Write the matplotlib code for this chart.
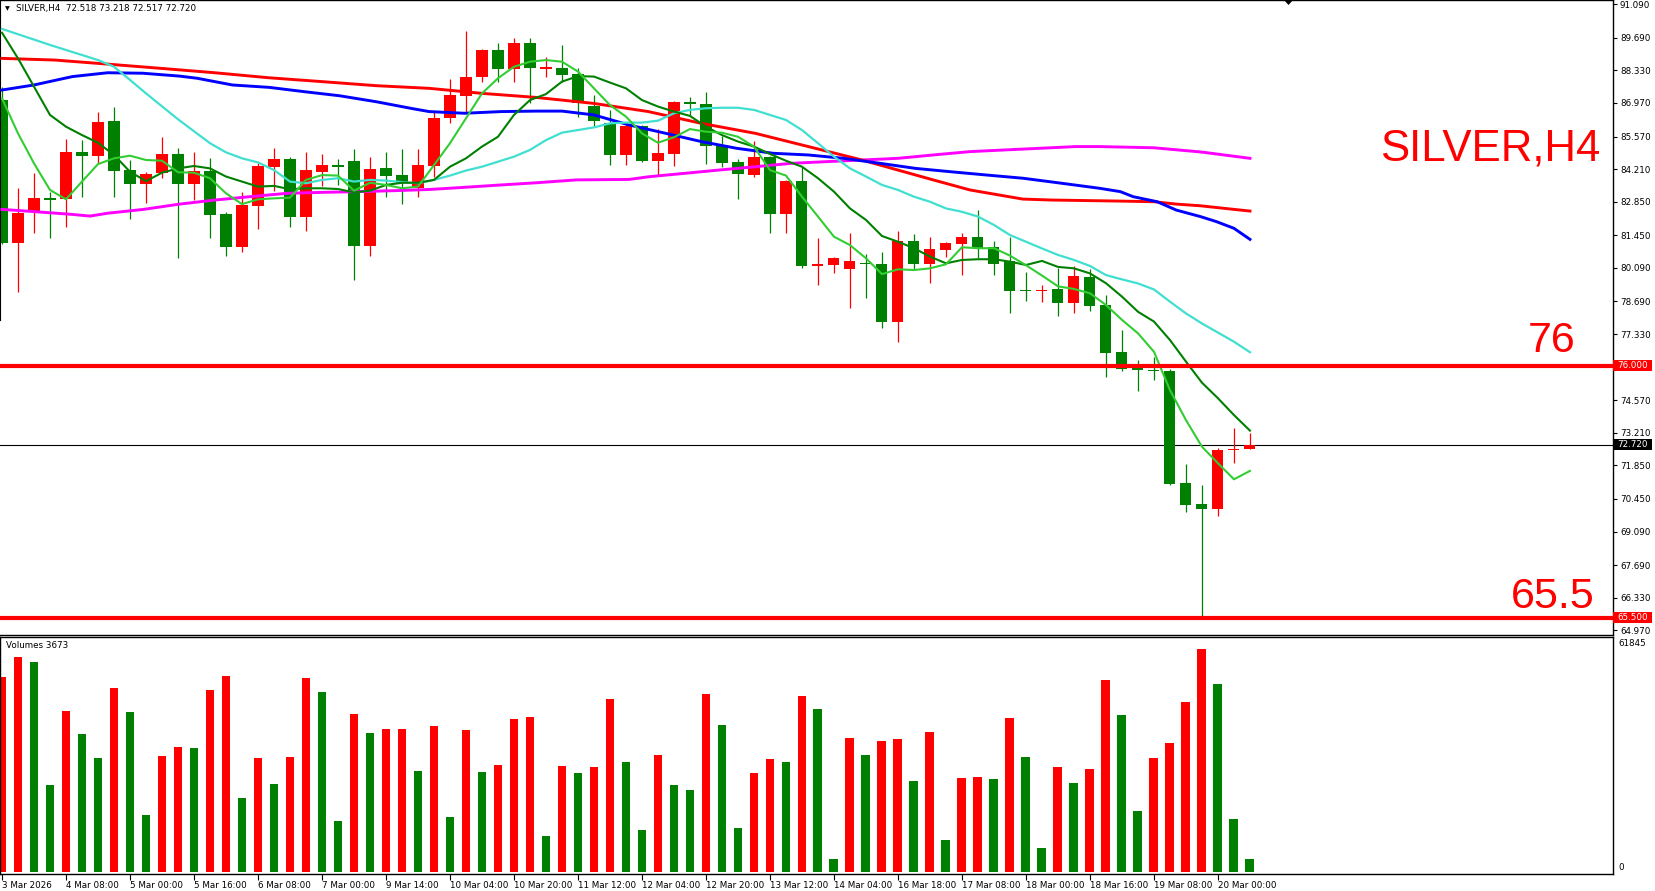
import matplotlib
matplotlib.use("Agg")
import matplotlib.pyplot as plt
from matplotlib.patches import Polygon, Rectangle

# values
time_labels = ["3 Mar 2026", "4 Mar 08:00", "5 Mar 00:00", "5 Mar 16:00", "6 Mar 08:00",
               "7 Mar 00:00", "9 Mar 14:00", "10 Mar 04:00", "10 Mar 20:00", "11 Mar 12:00",
               "12 Mar 04:00", "12 Mar 20:00", "13 Mar 12:00", "14 Mar 04:00", "16 Mar 18:00",
               "17 Mar 08:00", "18 Mar 00:00", "18 Mar 16:00", "19 Mar 08:00", "20 Mar 00:00"]

opens = [87.09, 81.14, 82.48, 83.00, 82.95, 84.91, 84.77, 86.22, 84.17, 83.57,
         84.03, 84.84, 83.60, 84.13, 82.35, 80.97, 82.68, 84.31, 84.63, 82.23,
         84.09, 84.37, 84.55, 81.00, 84.26, 83.96, 83.44, 84.35, 86.33, 87.27,
         88.04, 89.18, 88.37, 89.48, 88.40, 88.41, 88.18, 86.84, 86.12, 84.80,
         86.01, 84.56, 84.84, 86.98, 86.93, 85.22, 84.49, 83.96, 84.70, 82.35,
         83.71, 80.18, 80.21, 80.03, 80.31, 80.24, 77.83, 81.21, 80.27, 80.84,
         81.09, 81.36, 80.95, 80.38, 79.17, 79.12, 79.21, 78.64, 79.72, 78.54,
         76.57, 75.88, 75.83, 75.79, 71.12, 70.25, 70.05, 72.49, 72.518]
highs = [87.65, 83.41, 84.03, 83.27, 85.45, 85.42, 86.58, 86.82, 84.59, 84.10,
         85.56, 85.10, 84.91, 84.66, 82.43, 83.24, 84.45, 85.08, 84.73, 84.91,
         84.84, 84.62, 85.05, 84.70, 84.91, 85.05, 85.05, 86.65, 87.97, 89.97,
         89.21, 89.48, 89.67, 89.67, 88.90, 89.39, 88.41, 87.30, 86.68, 86.09,
         86.05, 85.87, 87.07, 87.20, 87.41, 85.59, 84.63, 85.40, 84.76, 83.76,
         84.31, 81.32, 80.56, 81.53, 80.65, 80.74, 81.64, 81.49, 81.36, 81.18,
         81.53, 82.50, 81.21, 81.39, 79.90, 79.38, 80.07, 80.17, 80.03, 78.96,
         77.50, 76.25, 76.39, 75.86, 71.91, 71.03, 72.56, 73.40, 73.218]
lows = [81.10, 79.10, 81.56, 81.35, 81.81, 83.06, 84.45, 83.06, 82.13, 82.81,
        83.85, 80.49, 82.92, 81.32, 80.60, 80.74, 81.71, 83.31, 81.81, 81.64,
        83.52, 83.55, 79.58, 80.58, 83.06, 82.75, 83.06, 83.89, 86.12, 86.61,
        87.86, 87.86, 87.86, 86.95, 88.07, 87.86, 86.37, 86.01, 84.38, 84.38,
        84.49, 83.96, 84.35, 86.47, 84.42, 84.31, 82.98, 83.89, 81.56, 81.56,
        80.10, 79.38, 79.89, 78.43, 78.82, 77.57, 77.01, 80.03, 79.47, 80.56,
        79.79, 80.49, 79.79, 78.19, 78.71, 78.68, 78.10, 78.22, 78.30, 75.55,
        75.80, 74.97, 75.41, 71.03, 69.92, 65.58, 69.75, 71.96, 72.517]
closes = [81.14, 82.36, 83.00, 82.94, 84.91, 84.77, 86.19, 84.14, 83.57, 84.01,
          84.84, 83.60, 84.13, 82.30, 80.97, 82.71, 84.35, 84.63, 82.23, 84.17,
          84.38, 84.28, 81.00, 84.21, 83.92, 83.62, 84.38, 86.33, 87.30, 88.04,
          89.18, 88.37, 89.48, 88.41, 88.43, 88.14, 86.98, 86.23, 84.80, 86.01,
          84.55, 84.87, 87.01, 86.93, 85.19, 84.48, 83.99, 84.70, 82.35, 83.71,
          80.17, 80.24, 80.52, 80.38, 80.25, 77.83, 81.21, 80.27, 80.88, 81.12,
          81.36, 80.90, 80.25, 79.14, 79.11, 79.18, 78.64, 79.75, 78.51, 76.55,
          75.86, 75.84, 75.77, 71.07, 70.21, 70.05, 72.49, 72.55, 72.720]

volumes = [54079, 59626, 58240, 24128, 44650, 38271, 31615, 51028, 44373, 15807,
           32170, 34666, 34389, 50474, 54356, 20522, 31615, 24405, 31893, 53802,
           49919, 14144, 43818, 38548, 39657, 39750, 28010, 40490, 15253, 39380,
           27733, 29674, 42431, 42986, 9984, 29397, 27455, 29120, 47977, 30506,
           11648, 32447, 24128, 22741, 49364, 40767, 12202, 27455, 31338, 30506,
           48810, 45203, 3605, 37161, 32447, 36330, 36884, 25236, 38826, 8874,
           26069, 26346, 25791, 42707, 31893, 6656, 29120, 24682, 28565, 53247,
           43540, 16917, 31615, 35774, 47145, 61845, 52137, 14698, 3673]

# moving averages (one value per bar for the fast ones)
ma_fast = [87.16, 85.70, 84.45, 83.34, 82.95, 83.69, 84.42, 84.66, 84.77, 84.59,
           84.56, 84.08, 84.06, 83.83, 83.20, 82.75, 82.95, 82.99, 83.02, 83.76,
           83.96, 83.94, 83.31, 83.64, 83.55, 83.41, 83.48, 84.38, 85.29, 86.33,
           87.37, 88.00, 88.48, 88.69, 88.76, 88.69, 88.28, 87.58, 86.88, 86.40,
           85.70, 85.31, 85.54, 85.88, 85.77, 85.73, 85.56, 85.15, 84.17, 83.94,
           83.06, 82.23, 81.39, 81.04, 80.49, 79.83, 80.03, 80.00, 80.07, 80.24,
           80.95, 80.91, 80.91, 80.60, 80.20, 79.77, 79.32, 79.21, 79.03, 78.54,
           77.92, 77.36, 76.59, 74.99, 73.74, 72.63, 71.94, 71.27, 71.62]
ma_mid = [89.90, 88.83, 87.65, 86.47, 85.98, 85.63, 85.31, 84.80, 84.10, 83.71,
          84.06, 84.24, 84.34, 84.24, 83.90, 83.69, 83.48, 83.51, 83.37, 83.41,
          83.41, 83.38, 83.24, 83.31, 83.55, 83.64, 83.64, 83.76, 84.31, 84.66,
          85.15, 85.56, 86.47, 87.09, 87.34, 87.86, 88.09, 88.07, 87.82, 87.58,
          87.09, 86.82, 86.61, 86.43, 85.98, 85.63, 85.36, 85.15, 84.84, 84.56,
          84.31, 83.83, 83.27, 82.57, 82.09, 81.42, 81.18, 80.91, 80.56, 80.28,
          80.42, 80.45, 80.45, 80.35, 80.21, 80.38, 80.13, 80.07, 79.86, 79.45,
          78.89, 78.26, 77.85, 77.08, 76.18, 75.30, 74.65, 73.95, 73.30]

turq_x = [0, 3, 4, 6, 7, 8, 9, 11, 13, 14, 15, 16, 17, 18, 19, 20, 21, 22, 23,
          24, 25, 26, 27, 28, 29, 30, 31, 32, 33, 34, 35, 36, 37, 38, 39, 40, 41, 42, 43,
          44, 45, 46, 47, 48, 49, 50, 51, 52, 53, 54, 55, 56, 57, 58, 59, 60, 61, 62, 63,
          64, 65, 66, 67, 68, 69, 70, 71, 72, 73, 74, 75, 76, 77, 78]
turq_y = [90.06, 89.39, 89.18, 88.76, 88.48, 87.93, 87.37, 86.29, 85.29,
          84.91, 84.66, 84.49, 84.17, 83.69, 83.62, 83.76, 83.83, 83.69, 83.76,
          83.73, 83.67, 83.62, 83.76, 83.94, 84.15, 84.31, 84.52, 84.73, 85.01,
          85.42, 85.73, 85.84, 85.95, 86.12, 86.15, 86.15, 86.23, 86.54, 86.68,
          86.75, 86.77, 86.77, 86.68, 86.47, 86.26, 85.84, 85.29, 84.73, 84.24,
          83.90, 83.55, 83.34, 83.06, 82.85, 82.57, 82.43, 82.23, 81.88, 81.46,
          81.18, 80.90, 80.63, 80.42, 80.17, 79.79, 79.61, 79.44, 79.19, 78.68,
          78.19, 77.77, 77.39, 77.01, 76.57]

blue_x = [0, 2, 4.4, 6.6, 8.8, 11.1, 12.2, 14.4, 16.7, 18.9, 21.1, 23.4, 25.6, 26.7,
          28.9, 31.2, 33.4, 35.0, 37.0, 39.2, 41.5, 43.7, 45.9, 48.2, 50.4, 52.6, 54.9,
          57.1, 59.3, 61.6, 63.8, 66.0, 68.6, 69.9, 70.7, 72.2, 73.4, 74.9, 75.9, 77.0, 78.0]
blue_y = [87.51, 87.72, 88.07, 88.23, 88.21, 88.09, 88.00, 87.72, 87.62, 87.44,
          87.27, 87.02, 86.74, 86.61, 86.54, 86.61, 86.63, 86.63, 86.47, 86.05,
          85.70, 85.36, 85.08, 84.87, 84.80, 84.66, 84.45, 84.24, 84.10, 83.96,
          83.83, 83.64, 83.41, 83.27, 83.06, 82.85, 82.50, 82.23, 82.02, 81.74, 81.28]

red_x = [0, 3.3, 6.6, 10, 13.3, 16.7, 20, 23.4, 26.7, 30, 33.4, 37, 40.4, 43.7,
         47.1, 50.4, 53.75, 56, 58.2, 60.5, 63.8, 65.6, 69.5, 72, 73.4, 74.9, 77, 78]
red_y = [88.83, 88.76, 88.59, 88.41, 88.23, 88.02, 87.86, 87.69, 87.58, 87.37,
         87.20, 86.95, 86.61, 86.12, 85.70, 85.15, 84.59, 84.17, 83.76, 83.34,
         82.96, 82.92, 82.88, 82.85, 82.75, 82.68, 82.53, 82.46]

mag_x = [0, 2.15, 4.4, 5.5, 6.6, 8.85, 11.1, 13.3, 15.5, 17.8, 20, 22.2, 24.5, 26.7,
         28.9, 31.2, 33.4, 35.9, 39.2, 40.4, 42.6, 44.8, 47.1, 49.3, 51.5, 53.75, 56,
         58.2, 60.5, 62.7, 64.9, 67.1, 68.6, 72, 75, 78]
mag_y = [82.53, 82.43, 82.32, 82.25, 82.37, 82.53, 82.75, 82.92, 83.06, 83.20,
         83.24, 83.27, 83.31, 83.36, 83.45, 83.55, 83.64, 83.76, 83.78, 83.89,
         84.03, 84.17, 84.31, 84.45, 84.52, 84.59, 84.66, 84.80, 84.94, 85.01,
         85.08, 85.15, 85.15, 85.10, 84.92, 84.66]

price_ticks = [91.09, 89.69, 88.33, 86.97, 85.57, 84.21, 82.85, 81.45, 80.09, 78.69,
               77.33, 74.57, 73.21, 71.85, 70.45, 69.09, 67.69, 66.33, 64.97]
levels = [76.0, 65.5]
level_texts = ["76", "65.5"]

UP = "#ff0000"
DOWN = "#008000"
W, H = 1656, 891

plt.rcParams["font.family"] = "DejaVu Sans"
fig = plt.figure(figsize=(W / 100, H / 100), dpi=100)


def fx(px):
    return px / W


def fy(py):
    return 1 - py / H


ax = fig.add_axes([0, fy(634.5), 1613 / W, 634.5 / H])
axv = fig.add_axes([0, fy(874), 1613 / W, (874 - 636.5) / H])

n = len(opens)
xs = list(range(n))
cols = [UP if c >= o else DOWN for o, c in zip(opens, closes)]

# candles
ax.vlines(xs, lows, highs, colors=cols, linewidth=0.9, zorder=2)
bottoms = [min(o, c) for o, c in zip(opens, closes)]
heights = [max(abs(c - o), 0.06) for o, c in zip(opens, closes)]
ax.bar(xs, heights, bottom=bottoms, width=0.69, color=cols, linewidth=0, zorder=2)

# moving averages
ax.plot(mag_x, mag_y, color="#ff00ff", lw=2.1, zorder=3)
ax.plot(red_x, red_y, color="#ff0000", lw=2.1, zorder=3)
ax.plot(blue_x, blue_y, color="#0000ff", lw=2.1, zorder=3)
ax.plot(turq_x, turq_y, color="#40e0d0", lw=1.6, zorder=3)
ax.plot(xs, ma_mid, color="#008000", lw=1.5, zorder=3)
ax.plot(xs, ma_fast, color="#32cd32", lw=1.5, zorder=3)

# levels and current price
for lv in levels:
    ax.axhline(lv, color="#ff0000", lw=3.0, zorder=4)
ax.axhline(closes[-1], color="black", lw=0.8, zorder=1.5)

ax.set_xlim(-0.125, 100.69)
ax.set_ylim(64.795, 91.265)
ax.set_xticks([])
ax.yaxis.tick_right()
ax.set_yticks(price_ticks)
ax.set_yticklabels([f"{v:.3f}" for v in price_ticks])
ax.tick_params(axis="y", direction="out", length=3, width=0.8, pad=2, labelsize=6.3)
ax.spines["left"].set_visible(False)
for s in ["top", "right", "bottom"]:
    ax.spines[s].set_linewidth(1.0)
ax.axvline(-0.1, ymin=1 - 320 / 634.5, ymax=1, color="black", lw=0.8, clip_on=False)

# price boxes on the scale
ytr = ax.get_yaxis_transform()
for val, bg in [(levels[0], "#ff0000"), (levels[1], "#ff0000"), (closes[-1], "black")]:
    ax.add_patch(Rectangle((1.0, val - 0.23), 39 / 1613, 0.46, transform=ytr,
                           facecolor=bg, edgecolor="none", clip_on=False, zorder=5))
    ax.text(1.0 + 4 / 1613, val, f"{val:.3f}", transform=ytr, color="white",
            fontsize=6.3, va="center", ha="left", zorder=6, clip_on=False)

# header and big annotations
fig.text(fx(5), fy(9), "\u25bc", fontsize=4.5, va="center", ha="left")
fig.text(fx(16), fy(8.7),
         f"SILVER,H4  {opens[-1]:.3f} {highs[-1]:.3f} {lows[-1]:.3f} {closes[-1]:.3f}",
         fontsize=6.3, va="center", ha="left")
fig.text(fx(1600), fy(161), "SILVER,H4", fontsize=31.5, color="#ff0000",
         family="Liberation Sans", ha="right", va="baseline")
fig.text(fx(1576), fy(352), level_texts[0], fontsize=31, color="#ff0000",
         family="Liberation Sans", ha="right", va="baseline")
fig.text(fx(1595), fy(608), level_texts[1], fontsize=31, color="#ff0000",
         family="Liberation Sans", ha="right", va="baseline")
fig.patches.append(Polygon([(fx(1284), fy(0)), (fx(1293), fy(0)), (fx(1288.5), fy(5))],
                           closed=True, transform=fig.transFigure, facecolor="black",
                           edgecolor="none"))

# volumes
vcols = [UP] + [UP if volumes[i] > volumes[i - 1] else DOWN for i in range(1, n)]
axv.bar(xs, volumes, width=0.56, color=vcols, linewidth=0)
axv.set_xlim(-0.125, 100.69)
axv.set_ylim(-555, 65312)
axv.set_yticks([])
axv.set_xticks(list(range(0, 4 * len(time_labels), 4)))
axv.set_xticklabels(time_labels)
for lbl in axv.get_xticklabels():
    lbl.set_horizontalalignment("left")
axv.tick_params(axis="x", direction="out", length=4, width=0.8, pad=1, labelsize=6.3)
for s in axv.spines.values():
    s.set_linewidth(1.0)
axv.text(6 / 1613, (874 - 645) / 237.5, f"Volumes {volumes[-1]}", transform=axv.transAxes,
         fontsize=6.3, va="center", ha="left")
axv.text(1.0 + 5 / 1613, (874 - 643) / 237.5, str(max(volumes)), transform=axv.transAxes,
         fontsize=6.3, va="center", ha="left", clip_on=False)
axv.text(1.0 + 5 / 1613, (874 - 867) / 237.5, "0", transform=axv.transAxes,
         fontsize=6.3, va="center", ha="left", clip_on=False)

fig.savefig("out.png", dpi=100)
